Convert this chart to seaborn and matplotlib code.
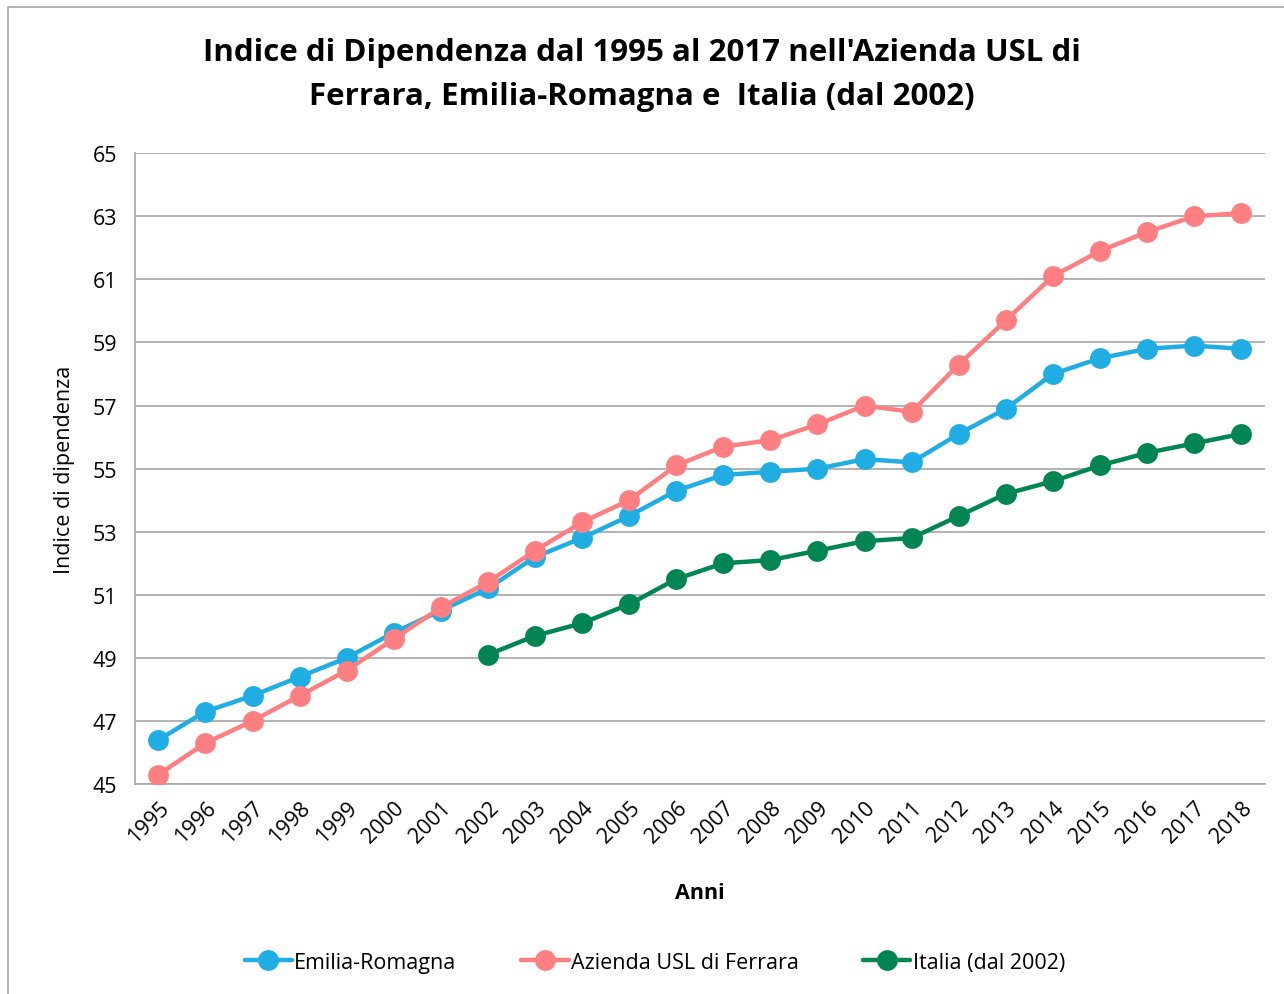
import pandas as pd
import numpy as np
import seaborn as sns
import matplotlib.pyplot as plt
from matplotlib.lines import Line2D
from matplotlib.patches import Rectangle

# data
anni = [str(a) for a in range(1995, 2019)]
emilia_romagna = [46.4, 47.3, 47.8, 48.4, 49.0, 49.8, 50.5, 51.2, 52.2, 52.8, 53.5, 54.3,
                  54.8, 54.9, 55.0, 55.3, 55.2, 56.1, 56.9, 58.0, 58.5, 58.8, 58.9, 58.8]
ferrara = [45.3, 46.3, 47.0, 47.8, 48.6, 49.6, 50.6, 51.4, 52.4, 53.3, 54.0, 55.1,
           55.7, 55.9, 56.4, 57.0, 56.8, 58.3, 59.7, 61.1, 61.9, 62.5, 63.0, 63.1]
italia = [np.nan] * 7 + [49.1, 49.7, 50.1, 50.7, 51.5, 52.0, 52.1, 52.4, 52.7, 52.8,
                         53.5, 54.2, 54.6, 55.1, 55.5, 55.8, 56.1]

serie = ['Emilia-Romagna', 'Azienda USL di Ferrara', 'Italia (dal 2002)']
colori = {'Emilia-Romagna': '#1fade3', 'Azienda USL di Ferrara': '#fe7f81',
          'Italia (dal 2002)': '#008553'}

# long format dataframe
df = pd.DataFrame({'pos': list(range(len(anni))) * 3,
                   'valore': emilia_romagna + ferrara + italia,
                   'serie': [s for s in serie for _ in anni]})
df = df.dropna()

sns.set_style('white')
plt.rcParams['font.family'] = ['Open Sans', 'DejaVu Sans']
plt.rcParams['text.color'] = 'black'
plt.rcParams['axes.labelcolor'] = 'black'
plt.rcParams['xtick.color'] = 'black'
plt.rcParams['ytick.color'] = 'black'

fig = plt.figure(figsize=(12.84, 9.95), dpi=100)
ax = fig.add_axes([0.105, 0.211, 0.88, 0.634])

# outer chart border like excel
fig.patches.append(Rectangle((0.006, -0.01), 1.2, 1.002, transform=fig.transFigure,
                             fill=False, edgecolor='#a6a6a6', linewidth=1.2))

for s in serie:
    sns.lineplot(data=df[df['serie'] == s], x='pos', y='valore', color=colori[s],
                 marker='o', markersize=15, markeredgewidth=0, linewidth=3.2,
                 ax=ax, legend=False, zorder=3)

ax.set_xlim(-0.5, len(anni) - 0.5)
ax.set_ylim(45, 65)
ax.set_yticks(range(45, 66, 2))
ax.grid(axis='y', color='#a6a6a6', linewidth=1.2)
ax.grid(axis='x', visible=False)

# ticks on category borders, labels on centers
ax.set_xticks(np.arange(-0.5, len(anni), 1))
ax.set_xticklabels([])
ax.set_xticks(range(len(anni)), minor=True)
ax.set_xticklabels(anni, minor=True, rotation=45, ha='right', rotation_mode='anchor')
ax.tick_params(axis='x', which='major', length=7, color='#a6a6a6', width=1.2, direction='out')
ax.tick_params(axis='x', which='minor', length=0, pad=9, labelsize=15.5)
ax.tick_params(axis='y', length=7, color='#a6a6a6', width=1.2, direction='out', labelsize=15.5, pad=6)

for side in ['top', 'right']:
    ax.spines[side].set_visible(False)
for side in ['left', 'bottom']:
    ax.spines[side].set_color('#a6a6a6')
    ax.spines[side].set_linewidth(1.2)

ax.set_xlabel('Anni', fontsize=15.5, fontweight='bold', labelpad=26)
ax.set_ylabel('Indice di dipendenza', fontsize=15.5, labelpad=12)
fig.suptitle("Indice di Dipendenza dal 1995 al 2017 nell'Azienda USL di\nFerrara, Emilia-Romagna e  Italia (dal 2002)",
             fontsize=22.5, fontweight='bold', y=0.962, linespacing=1.6)

handles = [Line2D([0], [0], color=colori[s], marker='o', markersize=15,
                  markeredgewidth=0, linewidth=3.2) for s in serie]
fig.legend(handles, serie, loc='center', bbox_to_anchor=(0.51, 0.032), ncol=3,
           frameon=False, fontsize=15.5, handlelength=2.2, handletextpad=0.1, columnspacing=3.0)

plt.savefig('out.png', dpi=100)
